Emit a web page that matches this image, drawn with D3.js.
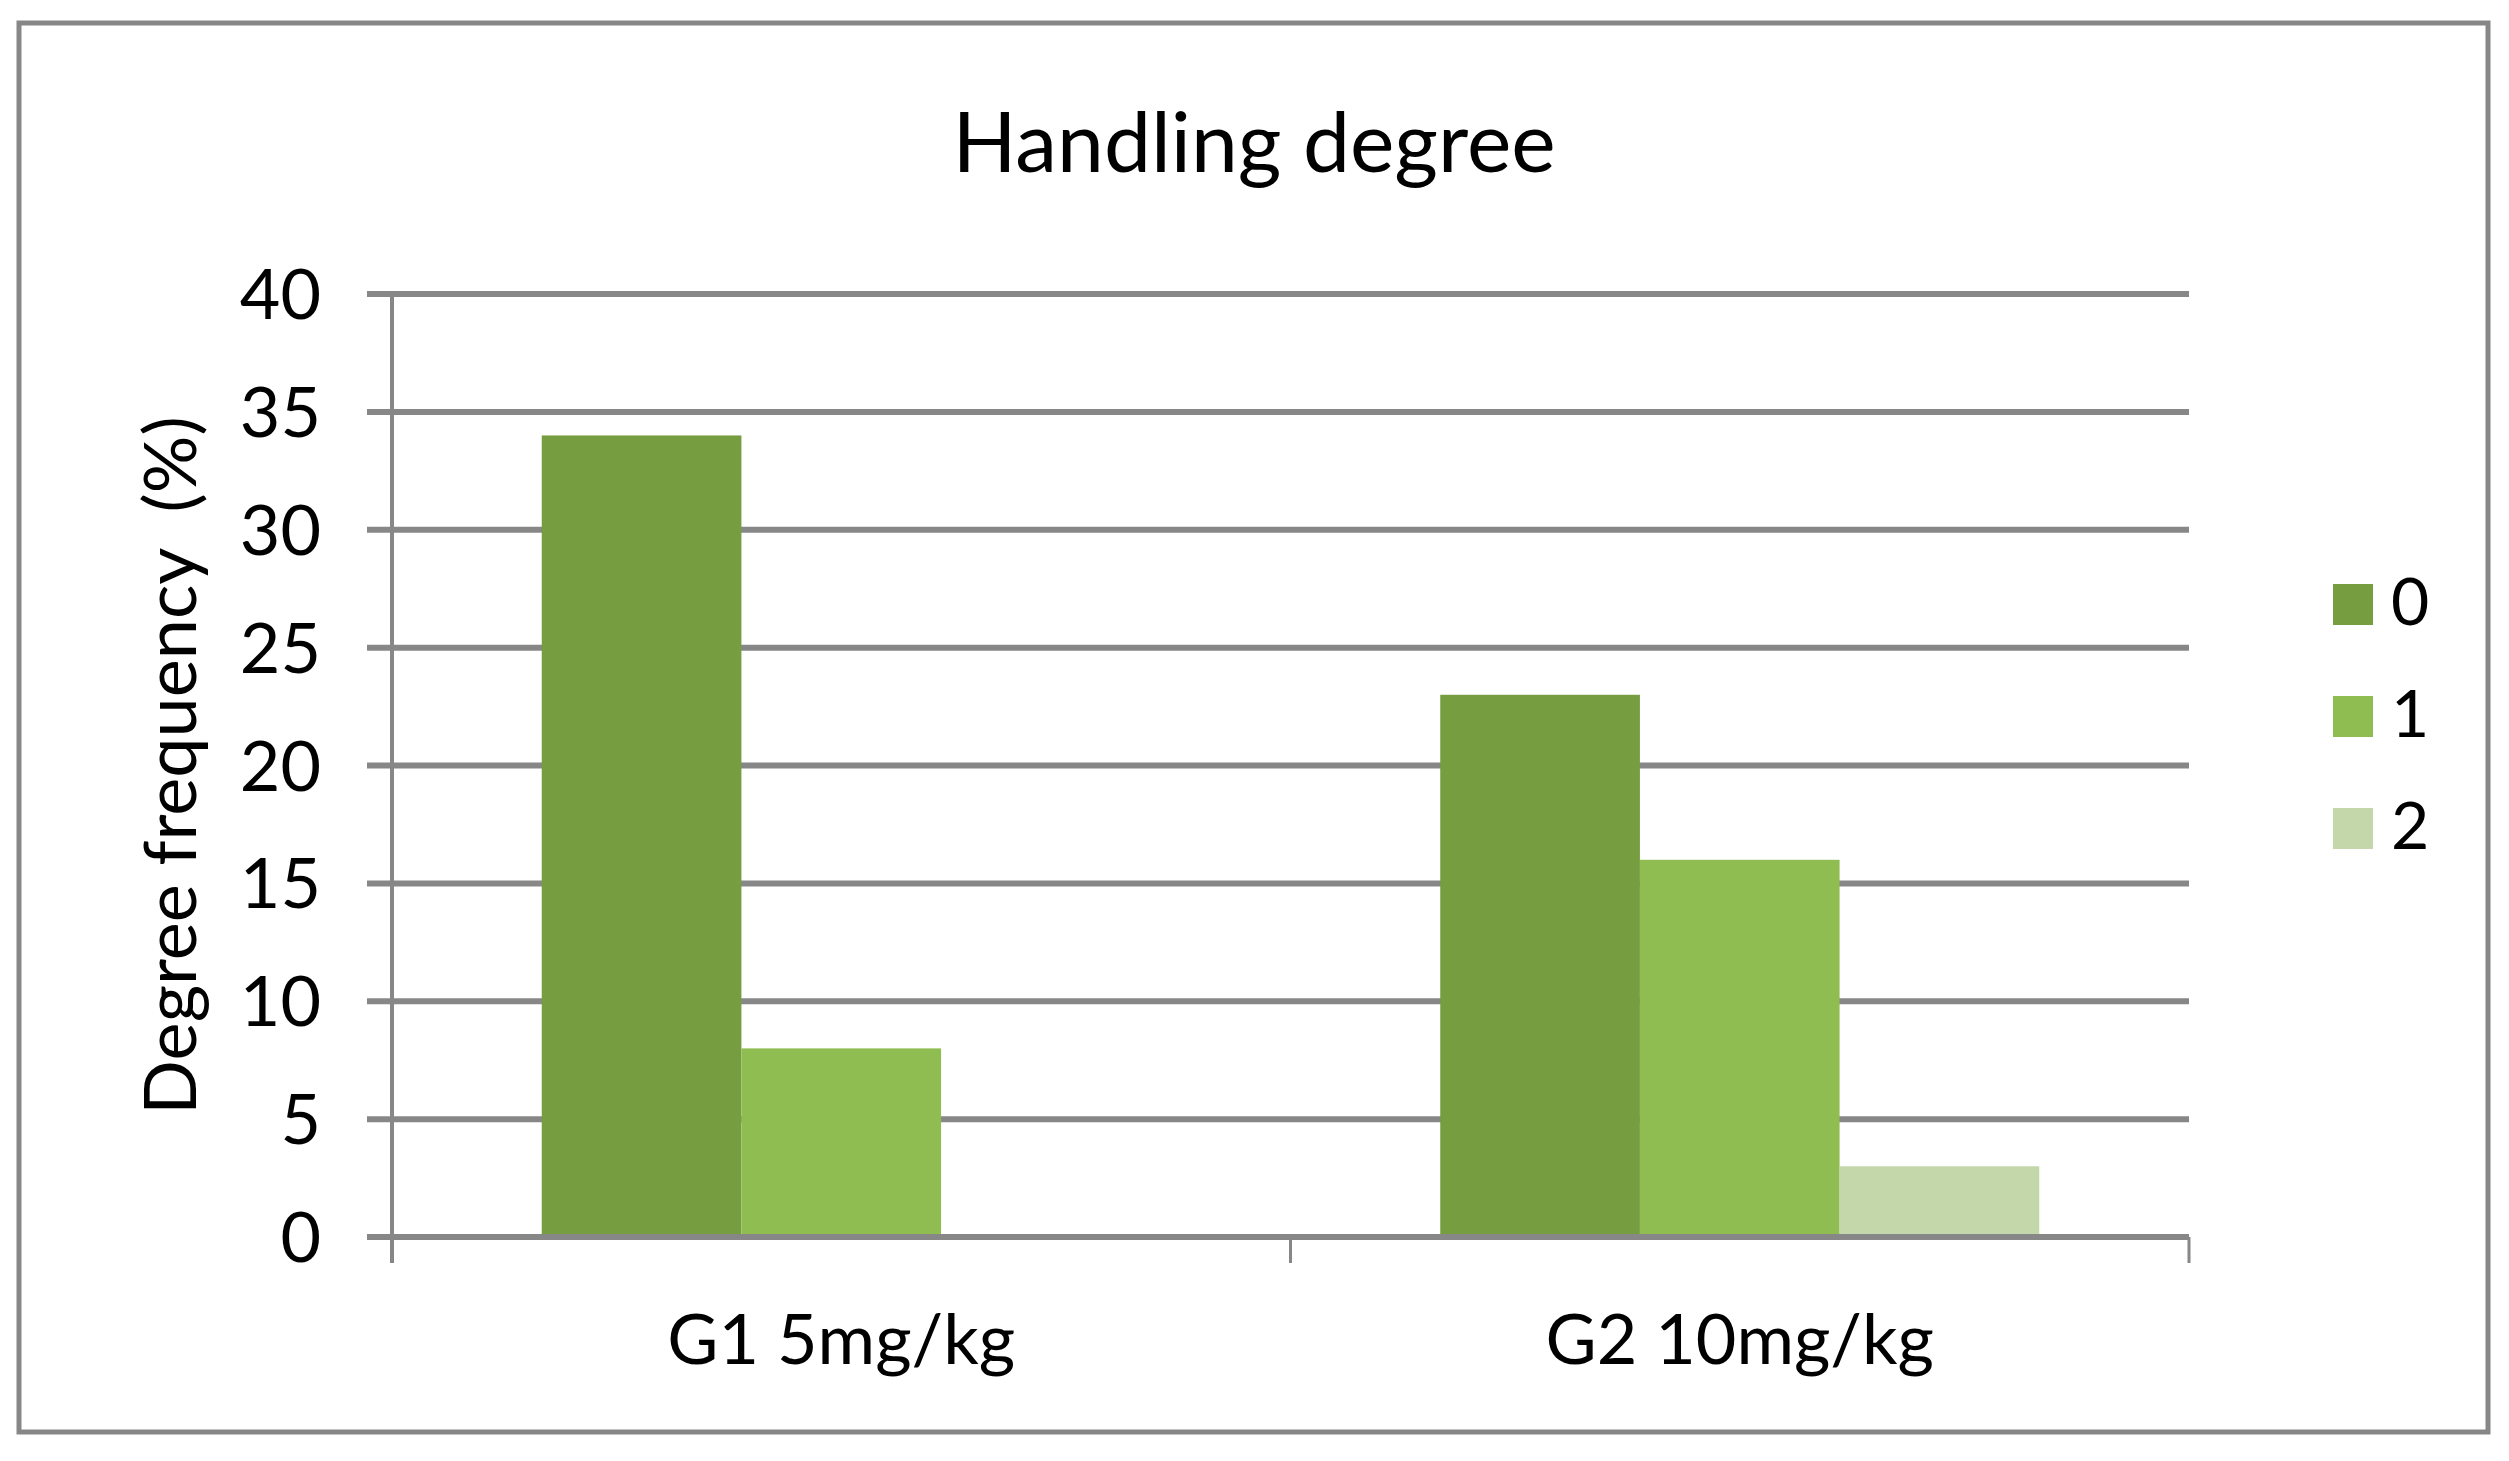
<!DOCTYPE html>
<html>
<head>
<meta charset="utf-8">
<script src="https://cdn.jsdelivr.net/npm/d3@7"></script>
<style>
  body { margin: 0; background: #fff; }
  text { font-family: Lato, "Open Sans", sans-serif; fill: #000; }
</style>
</head>
<body>
<div id="chart"></div>
<script>
// data
var groups = ["G1 5mg/kg", "G2 10mg/kg"]
var degrees = ["0", "1", "2"]
var deg0 = [34, 23]
var deg1 = [8, 16]
var deg2 = [0, 3]
var yTicks = [0, 5, 10, 15, 20, 25, 30, 35, 40]
var colors = ["#769D40", "#8FBD51", "#C4D7AB"]

var W = 2509, H = 1461
var plot = { left: 392, right: 2189, top: 294, bottom: 1237 }
var grey = "#878787"

var svg = d3.select("#chart").append("svg")
            .attr("width", W)
            .attr("height", H)

// outer frame
svg.append("rect")
   .attr("x", 19).attr("y", 23)
   .attr("width", 2469).attr("height", 1409)
   .attr("fill", "#fff")
   .attr("stroke", grey)
   .attr("stroke-width", 5)

var x = d3.scaleBand()
          .domain(groups)
          .range([plot.left, plot.right])
          .paddingInner(1 / 3)
          .paddingOuter(1 / 6)

var xs = d3.scaleBand()
           .domain(degrees)
           .range([0, x.bandwidth()])

var y = d3.scaleLinear()
          .domain([0, 40])
          .range([plot.bottom, plot.top])

// gridlines incl. the little tick out to the left
svg.selectAll(".grid")
   .data(yTicks)
   .enter().append("line")
   .attr("class", "grid")
   .attr("x1", plot.left - 25)
   .attr("x2", plot.right)
   .attr("y1", function(d) { return y(d) })
   .attr("y2", function(d) { return y(d) })
   .attr("stroke", grey)
   .attr("stroke-width", 6)

svg.selectAll(".ylab")
   .data(yTicks)
   .enter().append("text")
   .attr("class", "ylab")
   .attr("x", 321)
   .attr("y", function(d) { return y(d) + 25 })
   .attr("text-anchor", "end")
   .attr("font-size", 70)
   .text(function(d) { return d })

// bars
var rows = []
groups.forEach(function(g, i) {
    rows.push({ group: g, deg: "0", value: deg0[i] })
    rows.push({ group: g, deg: "1", value: deg1[i] })
    rows.push({ group: g, deg: "2", value: deg2[i] })
})

svg.selectAll(".bar")
   .data(rows)
   .enter().append("rect")
   .attr("class", "bar")
   .attr("x", function(d) { return x(d.group) + xs(d.deg) })
   .attr("y", function(d) { return y(d.value) })
   .attr("width", xs.bandwidth())
   .attr("height", function(d) { return y(0) - y(d.value) })
   .attr("fill", function(d) { return colors[degrees.indexOf(d.deg)] })

// axes
svg.append("line")
   .attr("x1", plot.left).attr("x2", plot.left)
   .attr("y1", plot.top).attr("y2", plot.bottom + 26)
   .attr("stroke", grey).attr("stroke-width", 4)

svg.append("line")
   .attr("x1", plot.left - 25).attr("x2", plot.right)
   .attr("y1", y(0)).attr("y2", y(0))
   .attr("stroke", grey).attr("stroke-width", 6)

var step = x.step()
var xTickPos = [plot.left, plot.left + step, plot.left + 2 * step]
svg.selectAll(".xtick")
   .data(xTickPos)
   .enter().append("line")
   .attr("class", "xtick")
   .attr("x1", function(d) { return d })
   .attr("x2", function(d) { return d })
   .attr("y1", plot.bottom)
   .attr("y2", plot.bottom + 26)
   .attr("stroke", grey)
   .attr("stroke-width", 3)

svg.selectAll(".xlab")
   .data(groups)
   .enter().append("text")
   .attr("class", "xlab")
   .attr("x", function(d) { return x(d) + x.bandwidth() / 2 })
   .attr("y", 1364)
   .attr("text-anchor", "middle")
   .attr("font-size", 70)
   .text(function(d) { return d })

// title
svg.append("text")
   .attr("x", 1254)
   .attr("y", 172)
   .attr("text-anchor", "middle")
   .attr("font-size", 84)
   .text("Handling degree")

// y axis title
svg.append("text")
   .attr("transform", "translate(196," + ((plot.top + plot.bottom) / 2) + ") rotate(-90)")
   .attr("text-anchor", "middle")
   .attr("font-size", 72)
   .attr("xml:space", "preserve")
   .style("white-space", "pre")
   .text("Degree frequency  (%)")

// legend
var legend = svg.selectAll(".legend")
                .data(degrees)
                .enter().append("g")
                .attr("class", "legend")
                .attr("transform", function(d, i) { return "translate(2333," + (584 + i * 112) + ")" })

legend.append("rect")
      .attr("width", 40)
      .attr("height", 41)
      .attr("fill", function(d, i) { return colors[i] })

legend.append("text")
      .attr("x", 58)
      .attr("y", 41)
      .attr("font-size", 66)
      .text(function(d) { return d })
</script>
</body>
</html>
